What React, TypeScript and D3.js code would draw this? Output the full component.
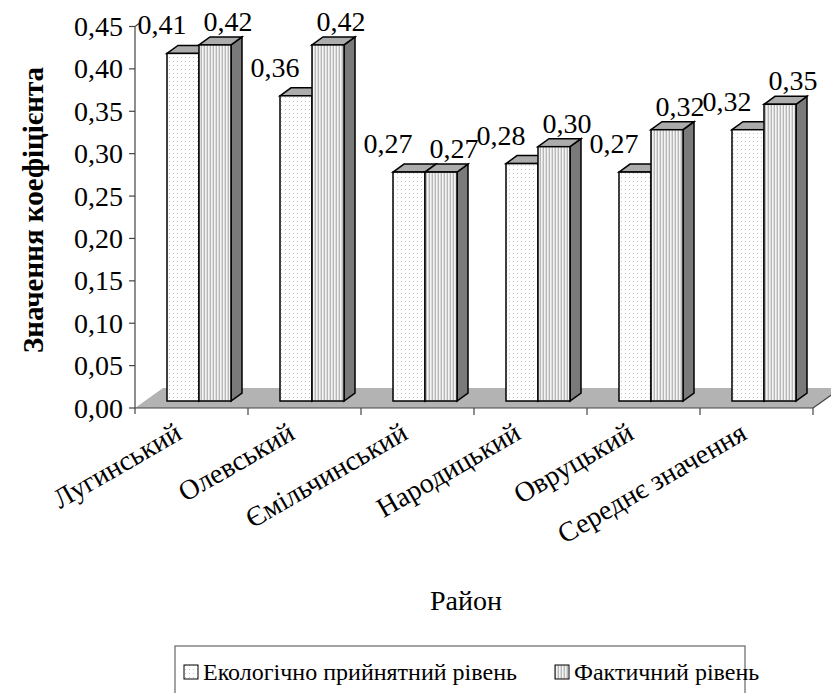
import React from "react";
import * as d3 from "d3";

const categories = ["Лугинський", "Олевський", "Ємільчинський", "Народицький", "Овруцький", "Середнє значення"];
const ecoValues = [0.41, 0.36, 0.27, 0.28, 0.27, 0.32];
const actualValues = [0.42, 0.42, 0.27, 0.30, 0.32, 0.35];
const yTicks = [0, 0.05, 0.1, 0.15, 0.2, 0.25, 0.3, 0.35, 0.4, 0.45];
const seriesNames = ["Екологічно прийнятний рівень", "Фактичний рівень"];

const W = 831;
const H = 693;
const FONT = "Liberation Serif, Times New Roman, serif";

const fmt = (v: number) => v.toFixed(2).replace(".", ",");

export default function App() {
  const y = d3.scaleLinear().domain([0, 0.45]).range([408, 26.5]);
  const x = d3.scaleBand<string>().domain(categories).range([135, 813]);
  const floorD = { x: 28, y: -20 };
  const d1 = { x: 10, y: -7 };
  const dd = { x: 11, y: -8 };
  const barW = 32;
  const barOff = 22;

  const bars: JSX.Element[] = [];
  const labels: JSX.Element[] = [];
  categories.forEach((c, i) => {
    const bx = (x(c) as number) + d1.x + barOff;
    [ecoValues[i], actualValues[i]].forEach((v, s) => {
      const x0 = bx + s * barW;
      const x1 = x0 + barW;
      const yt = y(v) + d1.y;
      const yb = y(0) + d1.y;
      bars.push(
        <g key={`b${i}-${s}`} stroke="#000" strokeWidth={1.5} strokeLinejoin="miter">
          <polygon points={`${x1},${yt} ${x1 + dd.x},${yt + dd.y} ${x1 + dd.x},${yb + dd.y} ${x1},${yb}`} fill="#7a7a7a" />
          <polygon points={`${x0},${yt} ${x0 + dd.x},${yt + dd.y} ${x1 + dd.x},${yt + dd.y} ${x1},${yt}`} fill="#acacac" />
          <rect x={x0} y={yt} width={barW} height={yb - yt} fill={s === 0 ? "url(#dots)" : "url(#stripes)"} />
        </g>
      );
      const gc = bx + barW;
      const lx = s === 0 ? gc - 37 : gc + 29;
      const ly = s === 0 ? y(v) - 26 : y(v) - 21;
      labels.push(
        <text key={`l${i}-${s}`} x={lx} y={ly} textAnchor="middle" fontSize={28} fontFamily={FONT} fill="#000">
          {fmt(v)}
        </text>
      );
    });
  });

  const fx0 = 135, fx1 = 813, fy = y(0);

  return (
    <svg width={W} height={H} style={{ position: "absolute", left: 0, top: 0, background: "#fff", fontFamily: "serif" }}>
      <defs>
        <pattern id="dots" width={4} height={4} patternUnits="userSpaceOnUse">
          <rect width={4} height={4} fill="#fff" />
          <rect x={1} y={1} width={1} height={1} fill="#c4c4c4" />
        </pattern>
        <pattern id="stripes" width={3} height={3} patternUnits="userSpaceOnUse">
          <rect width={3} height={3} fill="#f4f4f4" />
          <rect x={0} width={1} height={3} fill="#b8b8b8" />
          <rect x={2} width={1} height={3} fill="#dcdcdc" />
        </pattern>
      </defs>
      <polygon
        points={`${fx0},${fy} ${fx1},${fy} ${fx1 + floorD.x},${fy + floorD.y} ${fx0 + floorD.x},${fy + floorD.y}`}
        fill="#b3b3b3"
        stroke="none"
      />
      <line x1={fx1} y1={fy} x2={fx1 + floorD.x} y2={fy + floorD.y} stroke="#444" strokeWidth={1.2} />
      <line x1={fx0} y1={fy} x2={fx1} y2={fy} stroke="#444" strokeWidth={1.2} />
      {categories.map((c, i) => {
        const tx = (x(c) as number) + x.bandwidth();
        return <line key={`ct${i}`} x1={tx} y1={fy} x2={tx} y2={fy + 7} stroke="#444" strokeWidth={1.2} />;
      })}
      <line x1={135} y1={y(0.45)} x2={135} y2={fy + 6} stroke="#444" strokeWidth={1.2} />
      <line x1={135} y1={y(0.45)} x2={139} y2={y(0.45) - 3} stroke="#444" strokeWidth={1.2} />
      {yTicks.map((t, i) => (
        <g key={`yt${i}`}>
          <line x1={129} y1={y(t)} x2={135} y2={y(t)} stroke="#444" strokeWidth={1.2} />
          <text x={123} y={y(t) + 9.5} textAnchor="end" fontSize={28} fontFamily={FONT}>
            {fmt(t)}
          </text>
        </g>
      ))}
      <text
        x={43}
        y={210}
        transform="rotate(-90, 43, 210)"
        textAnchor="middle"
        fontSize={29}
        fontWeight="bold"
        fontFamily={FONT}
      >
        Значення коефіцієнта
      </text>
      {bars}
      {labels}
      {categories.map((c, i) => {
        const cx = (x(c) as number) + x.bandwidth() / 2 - 8;
        return (
          <text key={`cl${i}`} x={cx} y={438} transform={`rotate(-30, ${cx}, 438)`} textAnchor="end" fontSize={28} fontFamily={FONT}>
            {c}
          </text>
        );
      })}
      <text x={466} y={610} textAnchor="middle" fontSize={28} fontFamily={FONT}>
        Район
      </text>
      <rect x={175} y={646} width={570} height={60} fill="#fff" stroke="#666" strokeWidth={1.2} />
      <rect x={184} y={665} width={14} height={14} fill="url(#dots)" stroke="#000" strokeWidth={1} />
      <text x={203} y={680} fontSize={24} fontFamily={FONT}>
        {seriesNames[0]}
      </text>
      <rect x={555} y={665} width={14} height={14} fill="url(#stripes)" stroke="#000" strokeWidth={1} />
      <text x={574} y={680} fontSize={24} fontFamily={FONT}>
        {seriesNames[1]}
      </text>
    </svg>
  );
}
